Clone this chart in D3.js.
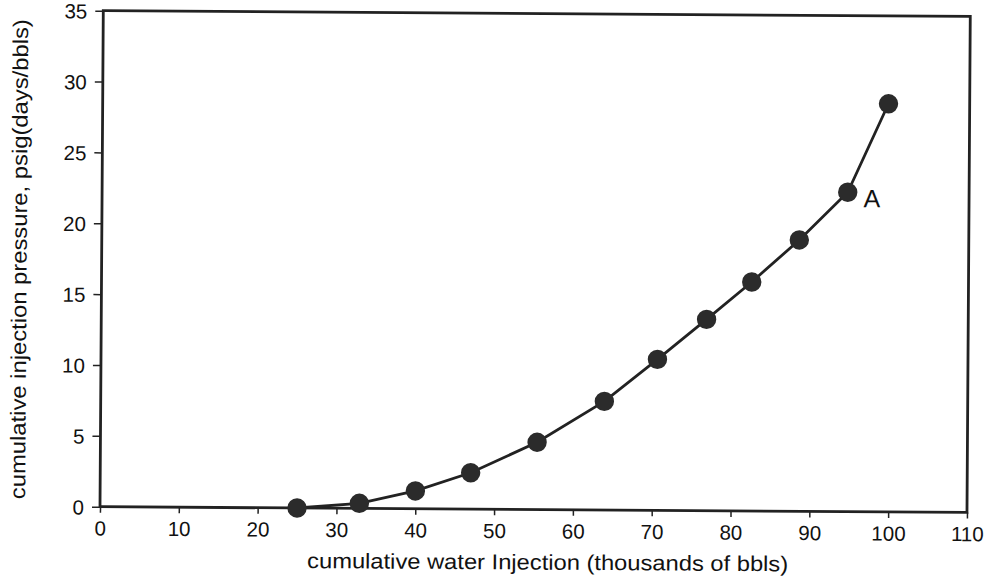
<!DOCTYPE html>
<html>
<head>
<meta charset="utf-8">
<script src="https://cdn.jsdelivr.net/npm/d3@7"></script>
<style>
  html, body { margin: 0; padding: 0; background: #fff; }
  svg { display: block; }
  text { font-family: "Liberation Sans", Arial, Helvetica, sans-serif; fill: #111; }
</style>
</head>
<body>
<svg id="chart" width="991" height="579"></svg>
<script>
// Cumulative water injection (thousands of bbls)
const injection = [25, 32.9, 40, 47, 55.4, 63.9, 70.6, 76.8, 82.5, 88.5, 94.6, 99.7];
// Cumulative injection pressure, psig(days/bbls)
const pressure  = [0, 0.36, 1.26, 2.57, 4.75, 7.67, 10.66, 13.5, 16.16, 19.15, 22.54, 28.8];
const xTicks = [0, 10, 20, 30, 40, 50, 60, 70, 80, 90, 100, 110];
const yTicks = [0, 5, 10, 15, 20, 25, 30, 35];
const annotation = { label: "A", index: 10 };

const margin = { left: 100, top: 10.7 };
const width = 867, height = 496;
const ink = "#222";

const svg = d3.select("#chart");
svg.append("rect").attr("width", 991).attr("height", 579).attr("fill", "#fff");

// whole figure sits at a slight clockwise tilt around the origin
const g = svg.append("g")
  .attr("transform", `translate(${margin.left},${margin.top + height}) rotate(0.38) translate(0,${-height})`);

const x = d3.scaleLinear().domain([0, 110]).range([0, width]);
const y = d3.scaleLinear().domain([0, 35]).range([height, 0]);

// axes
const xAxis = g.append("g")
  .attr("transform", `translate(0,${height})`)
  .call(d3.axisBottom(x).tickValues(xTicks).tickSize(6).tickPadding(8).tickFormat(d3.format("d")));
const yAxis = g.append("g")
  .call(d3.axisLeft(y).tickValues(yTicks).tickSize(8).tickPadding(8).tickFormat(d3.format("d")));

[xAxis, yAxis].forEach(a => {
  a.select(".domain").remove();
  a.selectAll(".tick line").attr("stroke", ink).attr("stroke-width", 1.5);
  a.selectAll(".tick text").style("font-size", "20.5px").attr("fill", "#111");
});
xAxis.selectAll(".tick text").attr("dy", "0.72em");
yAxis.selectAll(".tick text").attr("dy", "0.36em");

// frame
g.append("rect")
  .attr("x", 0).attr("y", 0).attr("width", width).attr("height", height)
  .attr("fill", "none").attr("stroke", ink).attr("stroke-width", 2.8);

const pts = injection.map((v, i) => ({ x: v, y: pressure[i] }));

// curve
g.append("path")
  .datum(pts)
  .attr("fill", "none")
  .attr("stroke", ink)
  .attr("stroke-width", 2.8)
  .attr("d", d3.line().x(d => x(d.x)).y(d => y(d.y)));

// markers
g.selectAll("circle.pt")
  .data(pts)
  .join("circle")
  .attr("class", "pt")
  .attr("cx", d => x(d.x))
  .attr("cy", d => y(d.y))
  .attr("r", 9.7)
  .attr("fill", "#2b2b2b");

// annotation
const ap = pts[annotation.index];
g.append("text")
  .attr("x", x(ap.x) + 16)
  .attr("y", y(ap.y) + 15)
  .style("font-size", "25px")
  .text(annotation.label);

// axis titles
g.append("text")
  .attr("x", 448)
  .attr("y", height + 60)
  .attr("text-anchor", "middle")
  .attr("textLength", 481)
  .attr("lengthAdjust", "spacingAndGlyphs")
  .style("font-size", "21.5px")
  .text("cumulative water Injection (thousands of bbls)");

g.append("text")
  .attr("transform", `translate(-75,${height / 2 + 1}) rotate(-90)`)
  .attr("text-anchor", "middle")
  .attr("textLength", 480)
  .attr("lengthAdjust", "spacingAndGlyphs")
  .style("font-size", "21.5px")
  .text("cumulative injection pressure, psig(days/bbls)");
</script>
</body>
</html>
